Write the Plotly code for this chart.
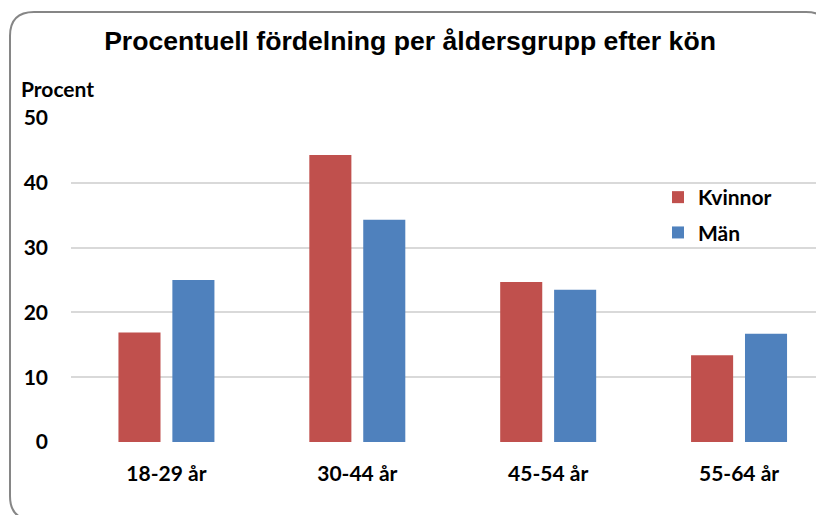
import plotly.graph_objects as go

age_groups = ["18-29 år", "30-44 år", "45-54 år", "55-64 år"]
kvinnor = [16.9, 44.3, 24.7, 13.4]
man = [25.0, 34.3, 23.5, 16.7]
y_ticks = [0, 10, 20, 30, 40, 50]

# the page body has an 8px margin, so work in page pixels and shift back
OFF = 8
W, H = 824 - OFF, 515 - OFF
ML, MR, MT, MB = 71 - OFF, 0, 118 - OFF, 515 - 442
PW, PH = W - ML - MR, H - MT - MB

FONT = "Lato"
RED = "#C0504D"
BLUE = "#4F81BD"


def px_x(x):
    # page pixel -> paper x
    return (x - OFF - ML) / PW


def px_y(y):
    # page pixel -> paper y
    return (H - MB - (y - OFF)) / PH


fig = go.Figure()

fig.add_trace(go.Bar(
    name="Kvinnor",
    legendgroup="k",
    x=list(range(len(age_groups))),
    y=kvinnor,
    marker=dict(color=RED, line=dict(width=0)),
))
fig.add_trace(go.Bar(
    name="Män",
    legendgroup="m",
    x=list(range(len(age_groups))),
    y=man,
    marker=dict(color=BLUE, line=dict(width=0)),
))

# rounded chart frame, runs off the right and bottom edge like the original
x0, y0, x1, y1, r = 10, 12, 830, 520, 24
frame = (
    f"M {px_x(x0 + r)},{px_y(y1)} "
    f"Q {px_x(x0)},{px_y(y1)} {px_x(x0)},{px_y(y1 - r)} "
    f"L {px_x(x0)},{px_y(y0 + r)} "
    f"Q {px_x(x0)},{px_y(y0)} {px_x(x0 + r)},{px_y(y0)} "
    f"L {px_x(x1 - r)},{px_y(y0)} "
    f"Q {px_x(x1)},{px_y(y0)} {px_x(x1)},{px_y(y0 + r)} "
    f"L {px_x(x1)},{px_y(y1 - r)} "
    f"Q {px_x(x1)},{px_y(y1)} {px_x(x1 - r)},{px_y(y1)} Z"
)
fig.add_shape(type="path", path=frame, xref="paper", yref="paper",
              line=dict(color="#868686", width=2), layer="above")

fig.add_annotation(
    text="Procent", x=px_x(19), y=px_y(88), xref="paper", yref="paper",
    xanchor="left", yanchor="middle", showarrow=False,
    font=dict(family=FONT, size=21, color="black", weight="bold"),
)

fig.update_layout(
    width=W,
    height=H,
    margin=dict(l=ML, r=MR, t=MT, b=MB),
    plot_bgcolor="white",
    paper_bgcolor="white",
    barmode="group",
    bargap=0.435,
    bargroupgap=0.22,
    title=dict(
        text="Procentuell fördelning per åldersgrupp efter kön",
        x=(410 - OFF) / W, xanchor="center",
        y=1 - (41 - OFF) / H, yanchor="middle", yref="container",
        font=dict(family="Liberation Sans", size=26.6, color="black", weight="bold"),
    ),
    legend=dict(
        x=px_x(658), y=px_y(177), xanchor="left", yanchor="top",
        font=dict(family=FONT, size=21, color="black", weight="bold"),
        bgcolor="rgba(0,0,0,0)", traceorder="grouped", tracegroupgap=5,
    ),
    xaxis=dict(
        range=[-0.5, (824 - 166) / 191],
        tickmode="array",
        tickvals=list(range(len(age_groups))),
        ticktext=age_groups,
        showgrid=False,
        zeroline=False,
        showline=False,
        ticks="",
        ticklabelstandoff=17,
        tickfont=dict(family=FONT, size=21, color="black", weight="bold"),
    ),
    yaxis=dict(
        range=[0, 50],
        tickvals=y_ticks,
        showgrid=True,
        gridcolor="#D9D9D9",
        gridwidth=2,
        zeroline=False,
        showline=False,
        ticks="",
        ticklabelstandoff=22,
        tickfont=dict(family=FONT, size=21, color="black", weight="bold"),
    ),
)

fig.write_html("out.html")
